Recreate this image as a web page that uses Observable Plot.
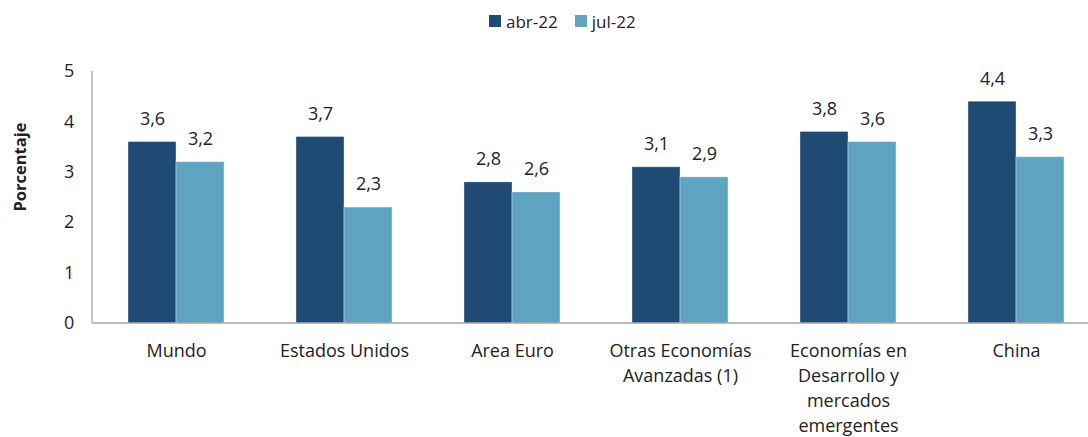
<!DOCTYPE html>
<html>
<head>
<meta charset="utf-8">
<script src="https://cdn.jsdelivr.net/npm/d3@7"></script>
<script src="https://cdn.jsdelivr.net/npm/@observablehq/plot@0.6"></script>
<style>
  html, body { margin: 0; padding: 0; background: #fff; }
  body { width: 1088px; height: 437px; position: relative; font-family: "Open Sans", sans-serif; overflow: hidden; }
  #legend { position: absolute; top: 9px; left: 489px; display: flex; align-items: center; font-size: 17px; color: #222; height: 24px; }
  .sw { width: 12px; height: 12px; display: inline-block; margin-right: 5px; }
  .item { display: flex; align-items: center; margin-right: 17px; }
  #chart { position: absolute; top: 40px; left: 0; width: 1100px; }
  #chart svg { max-width: none !important; }
</style>
</head>
<body>
<div id="legend"></div>
<div id="chart"></div>
<script>
const categories = ["Mundo", "Estados Unidos", "Area Euro", "Otras Economías\nAvanzadas (1)", "Economías en\nDesarrollo y\nmercados\nemergentes", "China"];
const seriesNames = ["abr-22", "jul-22"];
const abr22 = [3.6, 3.7, 2.8, 3.1, 3.8, 4.4];
const jul22 = [3.2, 2.3, 2.6, 2.9, 3.6, 3.3];
const colors = ["#1f4a74", "#5fa4c0"];
const yTicks = [0, 1, 2, 3, 4, 5];

const data = [];
categories.forEach((c, i) => {
  data.push({cat: c, serie: seriesNames[0], value: abr22[i]});
  data.push({cat: c, serie: seriesNames[1], value: jul22[i]});
});

const legend = document.getElementById("legend");
seriesNames.forEach((s, i) => {
  const it = document.createElement("div");
  it.className = "item";
  it.innerHTML = `<span class="sw" style="background:${colors[i]}"></span><span>${s}</span>`;
  legend.appendChild(it);
});

const fmt = v => v.toFixed(1).replace(".", ",");

// The reference's plot frame runs past the right edge of the picture
const W = 1100, ML = 92, MR = 0;
const padOuter = 0.215, padInner = 0.43;
const step = (W - ML - MR) / (categories.length - padInner + 2 * padOuter);
const facetOffset = step * padOuter; // distance from frame edge to first facet

const chart = Plot.plot({
  width: W,
  height: 397,
  marginTop: 31,
  marginBottom: 114,
  marginLeft: ML,
  marginRight: MR,
  style: {fontFamily: "'Open Sans', sans-serif", fontSize: "18px", color: "#222", background: "transparent", overflow: "visible", maxWidth: "none"},
  fx: {domain: categories, paddingInner: padInner, paddingOuter: padOuter, label: null},
  x: {domain: seriesNames, padding: 0, axis: null},
  y: {domain: [0, 5], label: null},
  color: {domain: seriesNames, range: colors},
  marks: [
    Plot.axisY({ticks: yTicks, tickSize: 0, tickPadding: facetOffset + 18, tickFormat: d => String(d), fontSize: 18, label: null}),
    Plot.axisFx({anchor: "bottom", tickSize: 0, tickPadding: 16, fontSize: 18, lineHeight: 1.39, label: null}),
    Plot.barY(data, {fx: "cat", x: "serie", y: "value", fill: "serie", stroke: "#ffffff", strokeOpacity: 0.35, strokeWidth: 1}),
    Plot.text(data, {fx: "cat", x: "serie", y: "value", text: d => fmt(d.value), dy: -23, fontSize: 18, fill: "#222"})
  ]
});

document.getElementById("chart").appendChild(chart);

// Axis lines spanning the full frame, and the rotated y-axis title
const svg = d3.select(chart);
const y = chart.scale("y");
const y0 = y.apply(0), y5 = y.apply(5);
svg.append("line").attr("x1", ML).attr("x2", W - MR).attr("y1", y0).attr("y2", y0)
  .attr("stroke", "#a6a6a6").attr("stroke-width", 1.3);
svg.append("line").attr("x1", ML).attr("x2", ML).attr("y1", y5).attr("y2", y0)
  .attr("stroke", "#a6a6a6").attr("stroke-width", 1.3);
svg.append("text").attr("transform", `translate(26,${(y0 + y5) / 2 - 30}) rotate(-90)`)
  .attr("text-anchor", "middle").attr("font-weight", "bold").attr("font-size", 16.5)
  .attr("fill", "#222").text("Porcentaje");
</script>
</body>
</html>
